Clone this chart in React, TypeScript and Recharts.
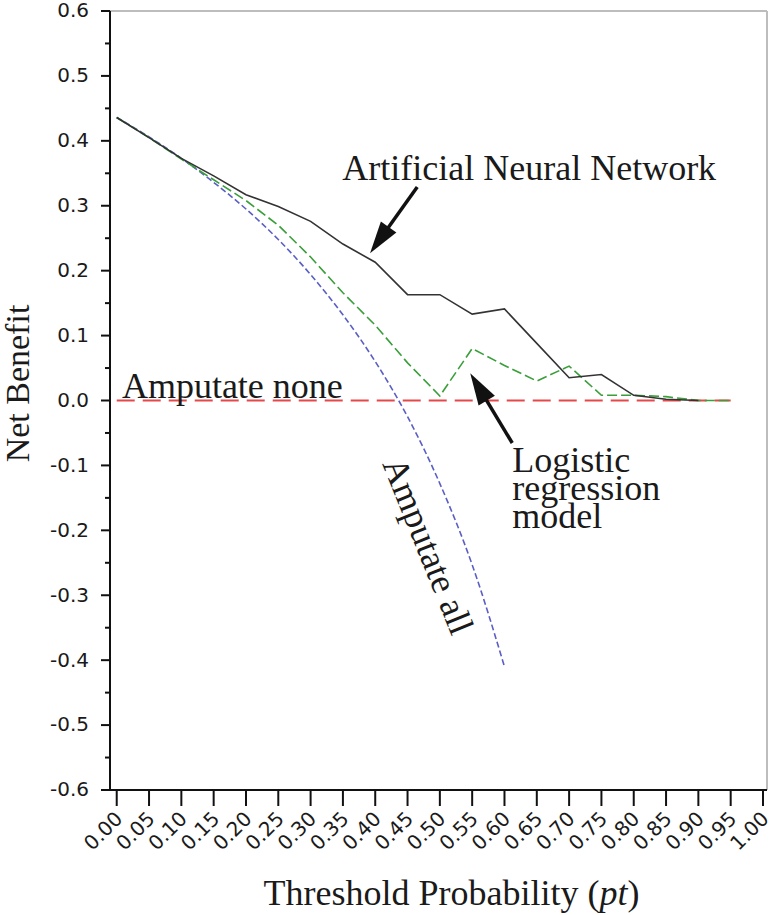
import React from 'react';
import { LineChart, Line, XAxis, YAxis, ReferenceLine, ReferenceDot, Label } from 'recharts';

// ---- data ----
const thresholds = [0, 0.05, 0.1, 0.15, 0.2, 0.25, 0.3, 0.35, 0.4, 0.45, 0.5, 0.55, 0.6, 0.65, 0.7, 0.75, 0.8, 0.85, 0.9, 0.95, 1.0];
const annNetBenefit = [0.436, 0.405, 0.373, 0.346, 0.317, 0.299, 0.276, 0.241, 0.213, 0.163, 0.163, 0.133, 0.141, 0.088, 0.035, 0.040, 0.008, 0.002, 0.0, null, null];
const lrNetBenefit = [0.436, 0.405, 0.372, 0.340, 0.308, 0.270, 0.221, 0.166, 0.116, 0.058, 0.007, 0.080, 0.054, 0.030, 0.053, 0.008, 0.008, 0.006, 0.0, 0.0, null];
const allNetBenefit = [0.436, 0.406, 0.373, 0.336, 0.295, 0.248, 0.194, 0.132, 0.060, -0.025, -0.128, -0.253, -0.410, null, null, null, null, null, null, null, null];
const noneNetBenefit = [0, 0, 0, 0, 0, 0, 0, 0, 0, 0, 0, 0, 0, 0, 0, 0, 0, 0, 0, 0, null];
const yTicks = [-0.6, -0.55, -0.5, -0.45, -0.4, -0.35, -0.3, -0.25, -0.2, -0.15, -0.1, -0.05, 0, 0.05, 0.1, 0.15, 0.2, 0.25, 0.3, 0.35, 0.4, 0.45, 0.5, 0.55, 0.6];
const xTitle = 'Threshold Probability (';
const xTitleItalic = 'pt';
const yTitle = 'Net Benefit';
const labelAnn = 'Artificial Neural Network';
const labelNone = 'Amputate none';
const labelAll = 'Amputate all';
const labelLR = ['Logistic', 'regression', 'model'];

const rows = thresholds.map((t, i) => ({
  t,
  ann: annNetBenefit[i],
  lr: lrNetBenefit[i],
  all: allNetBenefit[i],
  none: noneNetBenefit[i],
}));

const X_MIN = -0.0104;
const X_MAX = 1.0062;
const SANS = '"DejaVu Sans", Verdana, sans-serif';
const SERIF = '"Liberation Serif", "Times New Roman", serif';
const INK = '#1a1a1a';

const renderXTick = (props: any) => {
  const { x, y, payload } = props;
  const lx = x + 7;
  const ly = y + 30;
  return (
    <g>
      <line x1={x} y1={y} x2={x} y2={y + 16} stroke="#111" strokeWidth={2} />
      <text x={lx} y={ly} textAnchor="end" fontFamily={SANS} fontSize={20} fill={INK} transform={`rotate(-45 ${lx} ${ly})`}>
        {Number(payload.value).toFixed(2)}
      </text>
    </g>
  );
};

const renderYTick = (props: any) => {
  const { x, y, payload } = props;
  const v = Number(payload.value);
  const major = Math.abs(Math.round(v * 10) - v * 10) < 1e-6;
  return (
    <g>
      <line x1={x - (major ? 9 : 5)} y1={y} x2={x} y2={y} stroke="#111" strokeWidth={2} />
      {major && (
        <text x={x - 21} y={y} dy="0.32em" textAnchor="end" fontFamily={SANS} fontSize={20} fill={INK}>
          {(Math.abs(v) < 1e-9 ? 0 : v).toFixed(1)}
        </text>
      )}
    </g>
  );
};

const XTitle = (props: any) => {
  const vb = props.viewBox || { x: 110, y: 790, width: 657, height: 125 };
  const cx = vb.x + vb.width / 2 + 13;
  const by = vb.y + 115;
  return (
    <text x={cx} y={by} textAnchor="middle" fontFamily={SERIF} fontSize={36} fill={INK}>
      {xTitle}
      <tspan fontStyle="italic">{xTitleItalic}</tspan>
      {')'}
    </text>
  );
};

const YTitle = (props: any) => {
  const vb = props.viewBox || { x: 0, y: 11, width: 110, height: 779 };
  const bx = vb.x + 29;
  const cy = vb.y + vb.height / 2 - 17;
  return (
    <text x={bx} y={cy} textAnchor="middle" fontFamily={SERIF} fontSize={34} fill={INK} transform={`rotate(-90 ${bx} ${cy})`}>
      {yTitle}
    </text>
  );
};

const Arrow = (props: any) => {
  const { x1, y1, x2, y2 } = props;
  if ([x1, y1, x2, y2].some((v) => typeof v !== 'number' || isNaN(v))) return <g />;
  const dx = x2 - x1;
  const dy = y2 - y1;
  const len = Math.hypot(dx, dy) || 1;
  const ux = dx / len;
  const uy = dy / len;
  const hl = 32;
  const hw = 9.5;
  const bx = x2 - ux * hl;
  const by = y2 - uy * hl;
  const px = -uy;
  const py = ux;
  return (
    <g>
      <line x1={x1} y1={y1} x2={bx + ux * 3} y2={by + uy * 3} stroke="#111" strokeWidth={3.5} />
      <polygon points={`${x2},${y2} ${bx + px * hw},${by + py * hw} ${bx - px * hw},${by - py * hw}`} fill="#111" />
    </g>
  );
};

const textShape = (content: React.ReactNode, opts: { anchor?: string; rotate?: number; central?: boolean }) => (props: any) => {
  const { cx, cy } = props;
  return (
    <text
      x={cx}
      y={cy}
      textAnchor={opts.anchor || 'start'}
      dominantBaseline={opts.central ? 'central' : undefined}
      fontFamily={SERIF}
      fontSize={36}
      fill={INK}
      transform={opts.rotate ? `rotate(${opts.rotate} ${cx} ${cy})` : undefined}
    >
      {content}
    </text>
  );
};

const lrShape = (props: any) => {
  const { cx, cy } = props;
  return (
    <text x={cx} y={cy} fontFamily={SERIF} fontSize={36} fill={INK}>
      {labelLR.map((s, i) => (
        <tspan key={s} x={cx} dy={i === 0 ? 0 : 28}>
          {s}
        </tspan>
      ))}
    </text>
  );
};

export default function App() {
  return (
    <div style={{ position: 'absolute', left: 0, top: 0, width: 774, height: 915, overflow: 'hidden', background: '#fff' }}>
      <LineChart width={774} height={915} data={rows} margin={{ top: 11, right: 7, bottom: 0, left: 0 }}>
        <XAxis
          dataKey="t"
          type="number"
          domain={[X_MIN, X_MAX]}
          ticks={thresholds}
          interval={0}
          allowDataOverflow
          tick={renderXTick}
          tickLine={false}
          tickSize={0}
          tickMargin={0}
          height={125}
          axisLine={{ stroke: '#111', strokeWidth: 2 }}
        >
          <Label content={XTitle} />
        </XAxis>
        <YAxis
          type="number"
          domain={[-0.6, 0.6]}
          ticks={yTicks}
          interval={0}
          allowDataOverflow
          tick={renderYTick}
          tickLine={false}
          tickSize={0}
          tickMargin={0}
          width={110}
          axisLine={{ stroke: '#111', strokeWidth: 2 }}
        >
          <Label content={YTitle} />
        </YAxis>
        <ReferenceLine y={0.6} stroke="#bdbdbd" strokeWidth={2} />
        <ReferenceLine x={X_MAX} stroke="#bdbdbd" strokeWidth={2} />
        <Line dataKey="none" type="linear" stroke="#e5484b" strokeWidth={2} strokeDasharray="18 8" dot={false} isAnimationActive={false} />
        <Line dataKey="all" type="monotone" stroke="#5a5fc4" strokeWidth={1.6} strokeDasharray="6 3" dot={false} isAnimationActive={false} />
        <Line dataKey="lr" type="linear" stroke="#3a9e3a" strokeWidth={1.6} strokeDasharray="10 4" dot={false} isAnimationActive={false} />
        <Line dataKey="ann" type="linear" stroke="#333333" strokeWidth={1.6} dot={false} isAnimationActive={false} />
        <ReferenceDot x={0.349} y={0.34} r={0} ifOverflow="visible" shape={textShape(labelAnn, {})} />
        <ReferenceDot x={0.008} y={0.004} r={0} ifOverflow="visible" shape={textShape(labelNone, {})} />
        <ReferenceDot x={0.482} y={-0.224} r={0} ifOverflow="visible" shape={textShape(labelAll, { anchor: 'middle', rotate: 68, central: true })} />
        <ReferenceDot x={0.612} y={-0.11} r={0} ifOverflow="visible" shape={lrShape} />
        <ReferenceLine segment={[{ x: 0.465, y: 0.329 }, { x: 0.392, y: 0.227 }]} ifOverflow="visible" shape={Arrow} />
        <ReferenceLine segment={[{ x: 0.612, y: -0.0655 }, { x: 0.547, y: 0.042 }]} ifOverflow="visible" shape={Arrow} />
      </LineChart>
    </div>
  );
}
